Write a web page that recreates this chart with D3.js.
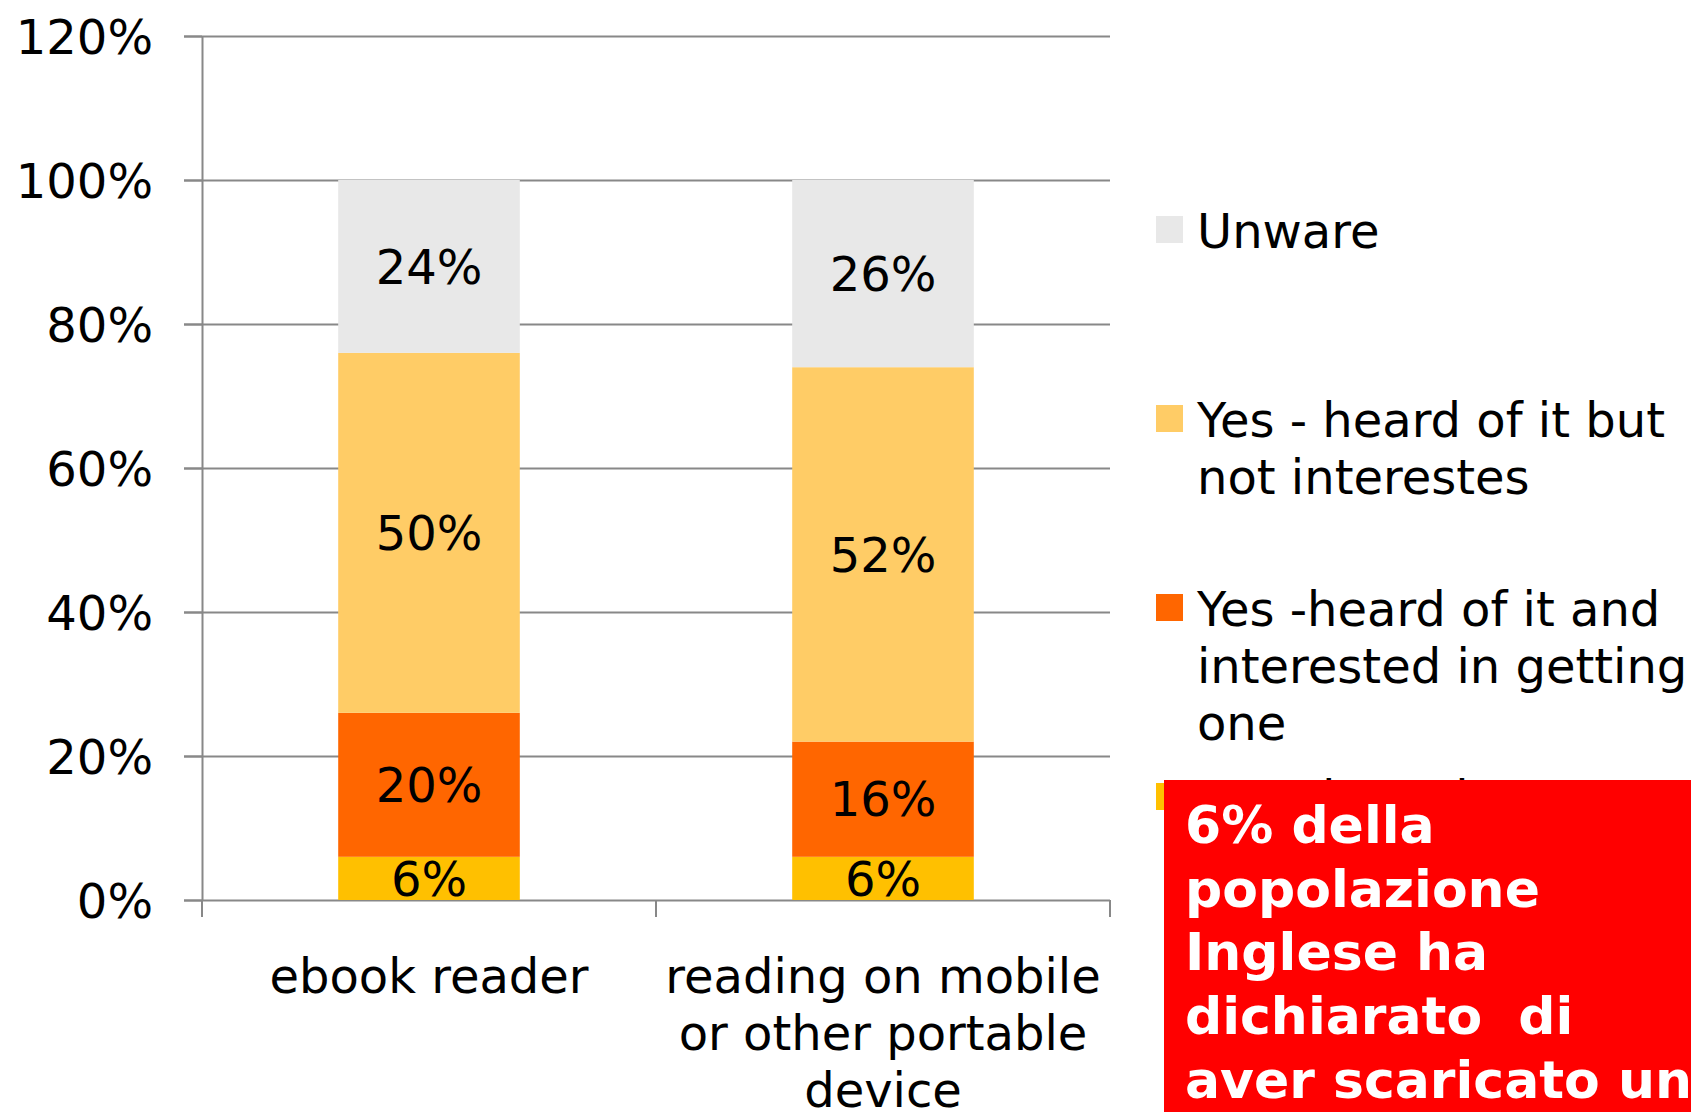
<!DOCTYPE html>
<html>
<head>
<meta charset="utf-8">
<script src="https://cdn.jsdelivr.net/npm/d3@7"></script>
<style>
  body { margin: 0; background: #fff; }
  svg { display: block; font-family: "DejaVu Sans", Verdana, sans-serif; }
</style>
</head>
<body>
<svg id="chart" width="1691" height="1112"></svg>
<script>
// values
var categories = ["ebook reader", "reading on mobile or other portable device"];
var seriesNames = ["Yes - have it", "Yes -heard of it and interested in getting one", "Yes - heard of it but not interestes", "Unware"];
var haveIt = [0.06, 0.06];
var interested = [0.20, 0.16];
var notInterested = [0.50, 0.52];
var unaware = [0.24, 0.26];
var seriesColors = ["#FFC000", "#FF6600", "#FFCC66", "#E8E8E8"];
var yTicks = [0, 0.2, 0.4, 0.6, 0.8, 1.0, 1.2];
var noteLines = ["6% della", "popolazione", "Inglese ha", "dichiarato  di", "aver scaricato un ebook"];

(function chart() {
    var svg = d3.select("#chart");

    var table = categories.map(function (c, i) {
        var row = { cat: c };
        row[seriesNames[0]] = haveIt[i];
        row[seriesNames[1]] = interested[i];
        row[seriesNames[2]] = notInterested[i];
        row[seriesNames[3]] = unaware[i];
        return row;
    });

    var x = d3.scaleBand().domain(categories).range([202, 1110])
            .paddingInner(0.6).paddingOuter(0.3),
        y = d3.scaleLinear().domain([0, 1.2]).range([900, 36]);

    var color = d3.scaleOrdinal().domain(seriesNames).range(seriesColors);

    // gridlines (behind the bars)
    svg.append("g")
        .attr("transform", "translate(1110,0)")
        .call(d3.axisLeft(y).tickValues(yTicks).tickSize(1110 - 184).tickFormat(""))
        .call(function (g) { g.select(".domain").remove(); })
        .selectAll("line")
        .attr("stroke", "#888")
        .attr("stroke-width", 2);

    var stacked = d3.stack().keys(seriesNames)(table);

    var layer = svg.append("g").selectAll("g")
        .data(stacked)
        .enter().append("g")
        .attr("fill", function (d) { return color(d.key); });

    layer.selectAll("rect")
        .data(function (d) { return d; })
        .enter().append("rect")
        .attr("x", function (d) { return x(d.data.cat); })
        .attr("y", function (d) { return y(d[1]); })
        .attr("width", x.bandwidth())
        .attr("height", function (d) { return y(d[0]) - y(d[1]); });

    layer.selectAll("text")
        .data(function (d) { return d; })
        .enter().append("text")
        .attr("x", function (d) { return x(d.data.cat) + x.bandwidth() / 2; })
        .attr("y", function (d) { return (y(d[0]) + y(d[1])) / 2; })
        .attr("dy", "0.36em")
        .attr("text-anchor", "middle")
        .attr("fill", "#000")
        .style("font-size", "48px")
        .text(function (d) { return d3.format(".0%")(d[1] - d[0]); });

    // y axis
    var yAxis = svg.append("g")
        .attr("transform", "translate(202,0)")
        .call(d3.axisLeft(y).tickValues(yTicks).tickSizeInner(18).tickSizeOuter(0)
            .tickPadding(31).tickFormat(d3.format(".0%")));
    yAxis.select(".domain").attr("stroke", "#888").attr("stroke-width", 2);
    yAxis.selectAll("line").attr("stroke", "#888").attr("stroke-width", 2);
    yAxis.selectAll("text")
        .attr("dy", "0.36em")
        .attr("fill", "#000")
        .style("font-size", "48px")
        .style("font-family", "'DejaVu Sans', Verdana, sans-serif");

    // category ticks sit between the bars
    var bounds = d3.range(categories.length + 1).map(function (i) {
        return x.range()[0] + i * x.step();
    });
    svg.append("g").selectAll("line")
        .data(bounds)
        .enter().append("line")
        .attr("x1", function (d) { return d; })
        .attr("x2", function (d) { return d; })
        .attr("y1", y(0))
        .attr("y2", y(0) + 17)
        .attr("stroke", "#888")
        .attr("stroke-width", 2);

    var xAxis = svg.append("g")
        .attr("transform", "translate(0," + y(0) + ")")
        .call(d3.axisBottom(x).tickSize(0).tickPadding(0));
    xAxis.select(".domain").remove();
    xAxis.selectAll("text")
        .attr("y", 93)
        .attr("dy", 0)
        .attr("fill", "#000")
        .style("font-size", "48px")
        .style("font-family", "'DejaVu Sans', Verdana, sans-serif")
        .call(wrap, 440, 57);

    // legend, top to bottom
    var legend = svg.append("g").selectAll("g")
        .data(seriesNames.slice().reverse())
        .enter().append("g")
        .attr("transform", function (d, i) { return "translate(1156," + (248 + i * 189) + ")"; });

    legend.append("rect")
        .attr("x", 0)
        .attr("y", -32)
        .attr("width", 27)
        .attr("height", 27)
        .attr("fill", function (d) { return color(d); });

    legend.append("text")
        .attr("x", 41)
        .attr("y", 0)
        .attr("fill", "#000")
        .style("font-size", "48px")
        .text(function (d) { return d; })
        .call(wrap, 495, 57);

    // red note box on top
    var note = svg.append("g");
    note.append("rect")
        .attr("x", 1164)
        .attr("y", 780)
        .attr("width", 1691 - 1164)
        .attr("height", 1112 - 780)
        .attr("fill", "#FF0000");
    note.selectAll("text")
        .data(noteLines)
        .enter().append("text")
        .attr("x", 1185)
        .attr("y", function (d, i) { return 843 + i * 63.7; })
        .attr("fill", "#fff")
        .attr("font-weight", "bold")
        .style("font-size", "52px")
        .style("white-space", "pre")
        .text(function (d) { return d; });

    function wrap(sel, width, lineHeight) {
        sel.each(function () {
            var text = d3.select(this),
                words = text.text().split(/\s+/),
                x0 = text.attr("x") || 0,
                y0 = text.attr("y") || 0,
                line = [],
                n = 0,
                tspan = text.text(null).append("tspan").attr("x", x0).attr("y", y0);
            words.forEach(function (w) {
                line.push(w);
                tspan.text(line.join(" "));
                if (tspan.node().getComputedTextLength() > width && line.length > 1) {
                    line.pop();
                    tspan.text(line.join(" "));
                    line = [w];
                    n++;
                    tspan = text.append("tspan").attr("x", x0)
                        .attr("y", +y0 + n * lineHeight).text(w);
                }
            });
        });
    }
}());
</script>
</body>
</html>
